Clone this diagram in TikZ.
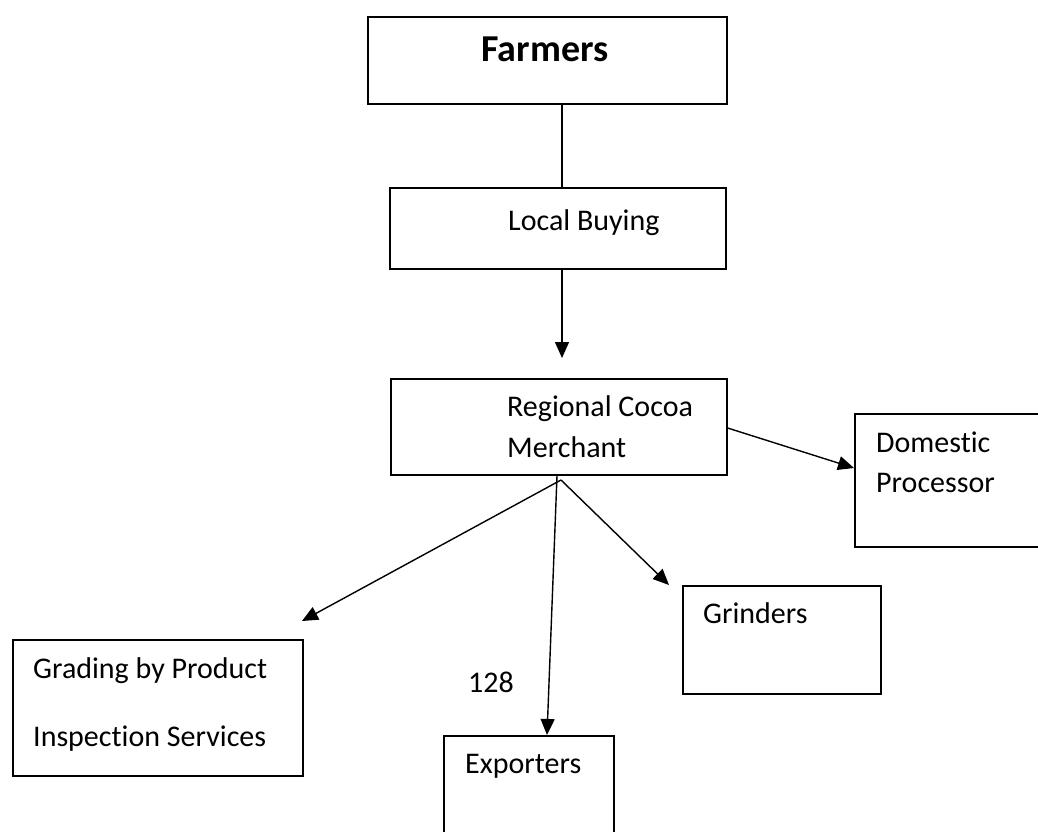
\documentclass[tikz,border=0pt]{standalone}
\usepackage{fontspec}
\setmainfont{Carlito}[Ligatures=NoCommon]
\usetikzlibrary{arrows.meta}

\newcommand{\boxline}{1.6pt}
\newcommand{\chartfont}{\fontsize{30}{36}\selectfont}

\tikzset{
  chartbox/.style={draw, line width=\boxline, inner sep=0pt, anchor=north west},
  chartlabel/.style={anchor=base west, inner sep=0pt, font=\chartfont},
  flow/.style={line width=1.4pt, -{Triangle[length=16pt,width=14pt]}}
}

\begin{document}
\begin{tikzpicture}[x=1pt, y=-1pt]
  \useasboundingbox (0, 0) rectangle (1038, 832);
  \clip (0, 0) rectangle (1038, 832);

  \node [chartbox, minimum width=359pt, minimum height=87pt] (farmers) at (367, 16) {};
  \node [chartbox, minimum width=336pt, minimum height=81pt] (buying) at (389, 187) {};
  \node [chartbox, minimum width=336pt, minimum height=96pt] (merchant) at (390, 378) {};
  \node [chartbox, minimum width=190pt, minimum height=133pt] (processor) at (854, 413) {};
  \node [chartbox, minimum width=198pt, minimum height=108pt] (grinders) at (682, 585) {};
  \node [chartbox, minimum width=290pt, minimum height=136pt] (grading) at (12, 639) {};
  \node [chartbox, minimum width=170pt, minimum height=120pt] (exporters) at (443, 735) {};

  \node [anchor=base, inner sep=0pt, font=\fontsize{38}{44}\selectfont\bfseries] (farmerstext) at (545, 62) {Farmers};
  \node [chartlabel] (buyingtext) at (508, 230) {Local Buying};
  \node [chartlabel] (merchanttext) at (507, 416) {Regional Cocoa};
  \node [chartlabel] (merchanttextb) at (507, 457) {Merchant};
  \node [chartlabel] (processortext) at (876, 452) {Domestic};
  \node [chartlabel] (processortextb) at (876, 492) {Processor};
  \node [chartlabel] (grinderstext) at (703, 623) {Grinders};
  \node [chartlabel] (gradingtext) at (33, 678) {Grading by Product};
  \node [chartlabel] (gradingtextb) at (33, 746) {Inspection Services};
  \node [chartlabel] (exporterstext) at (465, 773) {Exporters};
  \node [chartlabel] (pagenum) at (468, 692) {128};

  \coordinate (fork) at (561, 480);
  \coordinate (buyingend) at (562, 358);
  \coordinate (grindersend) at (669, 585);
  \coordinate (gradingend) at (302, 621);

  % links
  \draw [line width=1.4pt] (farmers.south -| 562, 0) -- (buying.north -| 562, 0);
  \draw [flow] (buying.south -| 562, 0) -- (buyingend);
  \draw [flow] (merchant.east |- 0, 428) -- (processor.west |- 0, 468);
  \draw [flow] (fork) -- (grindersend);
  \draw [flow] (fork) -- (gradingend);
  \draw [flow] (merchant.south -| 557, 0) -- (exporters.north -| 547, 0);

\end{tikzpicture}
\end{document}
